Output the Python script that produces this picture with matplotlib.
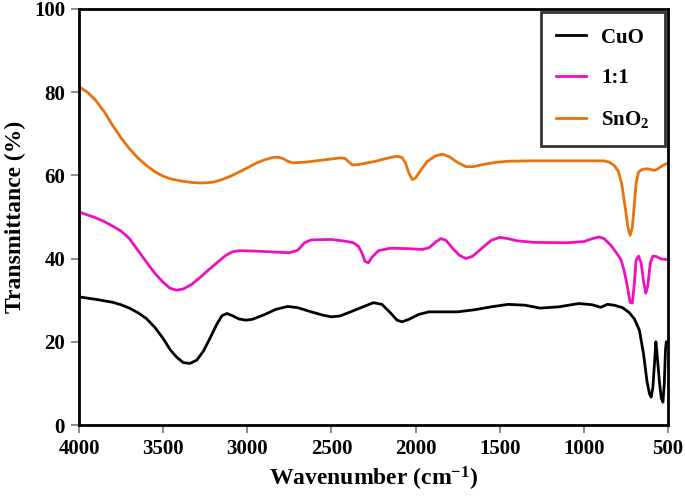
import numpy as np
import matplotlib
matplotlib.use("Agg")
import matplotlib.pyplot as plt

plt.rcParams['font.family'] = ['Liberation Serif', 'DejaVu Serif']
plt.rcParams['font.weight'] = 'bold'
plt.rcParams['mathtext.fontset'] = 'custom'
plt.rcParams['mathtext.rm'] = 'Liberation Serif:bold'
plt.rcParams['mathtext.bf'] = 'Liberation Serif:bold'
plt.rcParams['mathtext.default'] = 'rm'

# CuO spectrum (wavenumber, transmittance)
wn_cuo = [4000, 3900, 3800, 3750, 3700, 3650, 3600, 3550, 3500, 3460, 3420, 3380, 3340,
          3300, 3260, 3220, 3180, 3150, 3120, 3090, 3050, 3010, 2970, 2900, 2830, 2760,
          2700, 2620, 2550, 2500, 2450, 2380, 2300, 2250, 2200, 2150, 2110, 2080, 2040,
          1980, 1920, 1850, 1750, 1650, 1550, 1450, 1350, 1260, 1150, 1030, 950, 900,
          860, 820, 770, 730, 700, 670, 645, 625, 610, 600, 590, 580, 572, 565, 550,
          540, 530, 522, 515, 510, 500]
t_cuo = [30.8, 30.2, 29.5, 28.9, 28.1, 27.0, 25.6, 23.5, 20.8, 18.2, 16.3, 15.0, 14.8,
         15.6, 17.8, 21.0, 24.3, 26.3, 26.8, 26.3, 25.5, 25.2, 25.4, 26.5, 27.8, 28.5,
         28.2, 27.2, 26.4, 26.0, 26.2, 27.3, 28.6, 29.4, 29.0, 27.0, 25.2, 24.8, 25.4,
         26.6, 27.2, 27.2, 27.2, 27.7, 28.4, 29.0, 28.8, 28.1, 28.4, 29.2, 28.9, 28.3,
         29.0, 28.8, 28.2, 27.0, 25.5, 22.8, 17.0, 10.5, 7.5, 6.7, 9.0, 15.0, 20.0,
         17.0, 10.0, 6.5, 5.5, 10.0, 18.0, 20.0, 20.0]

# 1:1 composite
wn_mix = [4000, 3950, 3900, 3850, 3800, 3750, 3700, 3650, 3600, 3550, 3500, 3460, 3420,
          3380, 3330, 3280, 3230, 3180, 3130, 3090, 3050, 2950, 2850, 2750, 2700, 2660,
          2620, 2500, 2420, 2370, 2340, 2320, 2300, 2280, 2260, 2220, 2150, 2050, 1960,
          1920, 1880, 1850, 1820, 1780, 1740, 1700, 1660, 1600, 1550, 1500, 1450, 1400,
          1300, 1100, 1000, 950, 910, 880, 840, 810, 780, 760, 740, 725, 712, 700, 690,
          675, 660, 645, 632, 620, 605, 590, 570, 540, 510, 500]
t_mix = [51.2, 50.5, 49.8, 48.9, 47.8, 46.6, 44.8, 42.0, 39.2, 36.5, 34.3, 32.9, 32.4,
         32.7, 33.8, 35.5, 37.3, 39.0, 40.7, 41.6, 41.9, 41.8, 41.6, 41.4, 42.0, 43.8,
         44.5, 44.6, 44.2, 43.8, 43.0, 41.5, 39.3, 39.0, 40.3, 41.9, 42.5, 42.4, 42.2,
         42.6, 44.0, 44.8, 44.4, 42.5, 40.8, 40.0, 40.6, 42.7, 44.4, 45.1, 44.8, 44.3,
         43.9, 43.8, 44.1, 44.8, 45.2, 44.8, 43.2, 41.6, 39.8, 37.0, 33.0, 29.5, 29.3,
         34.0, 39.5, 40.6, 39.0, 34.5, 31.7, 33.5, 39.0, 40.6, 40.5, 39.9, 39.8, 39.9]

# SnO2 spectrum
wn_sno2 = [4000, 3950, 3900, 3850, 3800, 3750, 3700, 3650, 3600, 3550, 3500, 3450, 3400,
           3350, 3300, 3250, 3200, 3150, 3100, 3050, 3000, 2950, 2900, 2850, 2820, 2790,
           2760, 2730, 2650, 2550, 2450, 2420, 2395, 2375, 2340, 2250, 2150, 2110, 2080,
           2060, 2040, 2020, 2000, 1970, 1930, 1880, 1840, 1800, 1750, 1700, 1660, 1600,
           1530, 1450, 1300, 1000, 880, 850, 820, 795, 775, 755, 738, 725, 712, 700, 690,
           675, 655, 625, 600, 580, 560, 530, 500]
t_sno2 = [81.3, 80.0, 78.0, 75.3, 72.0, 69.0, 66.4, 64.2, 62.4, 60.9, 59.8, 59.1, 58.7,
          58.4, 58.2, 58.2, 58.4, 59.0, 59.8, 60.8, 61.8, 62.9, 63.7, 64.3, 64.4, 64.1,
          63.4, 63.0, 63.2, 63.7, 64.2, 64.1, 63.2, 62.5, 62.6, 63.3, 64.3, 64.6, 64.3,
          63.0, 60.6, 59.0, 59.4, 61.2, 63.4, 64.7, 65.1, 64.5, 63.1, 62.1, 62.1, 62.6,
          63.1, 63.4, 63.5, 63.5, 63.5, 63.2, 62.4, 61.0, 58.0, 52.5, 47.5, 45.6, 47.5,
          53.0, 58.0, 60.8, 61.4, 61.6, 61.4, 61.2, 61.6, 62.4, 63.0]

fig = plt.figure(figsize=(6.85, 4.98), dpi=100)
ax = fig.add_axes([79/685, 73/498, 589/685, 416/498])

ax.plot(wn_cuo, t_cuo, color='black', lw=2.0, label='CuO')
ax.plot(wn_mix, t_mix, color='#EE10BE', lw=2.0, label='1:1')
ax.plot(wn_sno2, t_sno2, color='#E8720C', lw=2.0, label=r'SnO$_2$')

ax.set_xlim(4000, 500)
ax.set_ylim(0, 100)
ax.set_xticks([4000, 3500, 3000, 2500, 2000, 1500, 1000, 500])
ax.set_yticks([0, 20, 40, 60, 80, 100])
ax.tick_params(direction='out', length=6, width=1.2, color='#777777', labelsize=15, pad=4)
for s in ax.spines.values():
    s.set_linewidth(2.0)

ax.set_xlabel(r'Wavenumber (cm$^{-1}$)', fontsize=17, fontweight='bold', labelpad=4)
ax.set_ylabel('Transmittance (%)', fontsize=17, fontweight='bold', labelpad=6)

leg = ax.legend(loc='upper right', bbox_to_anchor=(0.995, 0.993), borderaxespad=0,
                fontsize=15, frameon=True, fancybox=False, handlelength=1.45,
                handletextpad=0.7, labelspacing=1.0, borderpad=0.75)
leg.get_frame().set_edgecolor('black')
leg.get_frame().set_linewidth(2.0)

fig.savefig('out.png', dpi=100)
